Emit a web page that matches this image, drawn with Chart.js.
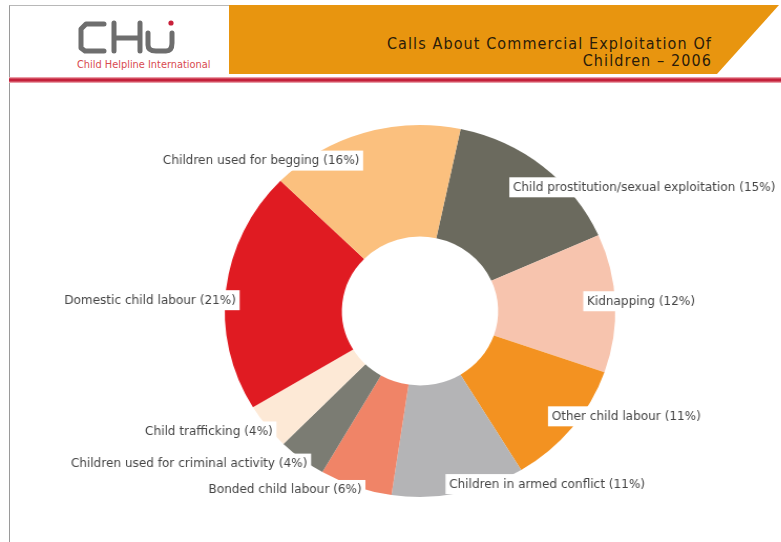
<!DOCTYPE html>
<html>
<head>
<meta charset="utf-8">
<script src="https://cdn.jsdelivr.net/npm/chart.js@4.4.1/dist/chart.umd.min.js"></script>
<style>
  html, body { margin: 0; padding: 0; background: #fff; }
  #page { position: relative; width: 781px; height: 542px; overflow: hidden; }
  #frame { position: absolute; left: 9px; top: 5px; width: 230px; height: 540px;
           border-left: 1px solid #9a9a9a; border-top: 1px solid #b8b8b8; }
  #banner { position: absolute; left: 229px; top: 5px; width: 552px; height: 69px; }
  #title { position: absolute; right: 69px; top: 35px; text-align: right;
           font-family: "DejaVu Sans Condensed", "DejaVu Sans"; font-stretch: condensed;
           font-size: 16px; line-height: 17px; letter-spacing: 1.1px; color: #2b1c0a; }
  #rule { position: absolute; left: 9px; top: 77px; width: 772px; height: 6px;
          background: linear-gradient(#f6c3c8, #c4203a 35%, #c4203a 65%, #f6c3c8); }
  #logo { position: absolute; left: 74px; top: 18px; }
  #tagline { position: absolute; left: 77px; top: 59px; font-family: "DejaVu Sans";
             font-size: 9.8px; color: #d84a50; }
  /* the source picture is slightly stretched sideways */
  canvas { position: absolute; left: 0; top: 0; transform: scaleX(1.05); transform-origin: 420px 0; }
</style>
</head>
<body>
<div id="page">
  <div id="frame"></div>
  <svg id="banner" width="552" height="69">
    <polygon points="0,0 550,0 488,69 0,69" fill="#e8950f"/>
  </svg>
  <div id="title">Calls About Commercial Exploitation Of<br>Children – 2006</div>
  <svg id="logo" width="110" height="40">
    <g fill="none" stroke="#6e6e6e" stroke-width="5" stroke-linecap="round" stroke-linejoin="round">
      <path d="M30,6 L12,6 L7,11 L7,30 L11,33 L30,33"/>
      <path d="M40,5 L40,33 M40,20 L66,20 M66,5 L66,33"/>
      <path d="M74,15 L74,27 Q74,33 82,33 L92,33 Q98,33 98,25 L98,15"/>
    </g>
    <circle cx="97" cy="5" r="2.6" fill="#c8203a"/>
  </svg>
  <div id="tagline">Child Helpline International</div>
  <div id="rule"></div>
  <canvas id="callsChart" width="781" height="542"></canvas>
</div>
<script>
const categories = [
  'Child prostitution/sexual exploitation',
  'Kidnapping',
  'Other child labour',
  'Children in armed conflict',
  'Bonded child labour',
  'Children used for criminal activity',
  'Child trafficking',
  'Domestic child labour',
  'Children used for begging'
];
const shares = [15, 12, 11, 11, 6, 4, 4, 21, 16];
const sliceColours = [
  '#6b6a5e', '#f7c4ae', '#f39221', '#b4b4b6', '#f08467',
  '#7b7c73', '#fde9d6', '#e01b22', '#fbc07e'
];

const DEG = Math.PI / 180;

// white boxed labels placed near each slice's middle angle
const sliceLabels = {
  id: 'sliceLabels',
  afterDatasetsDraw(chart) {
    const ctx = chart.ctx;
    const meta = chart.getDatasetMeta(0);
    ctx.save();
    ctx.font = '11.5px "DejaVu Sans"';
    ctx.textBaseline = 'middle';
    meta.data.forEach((arc, i) => {
      const p = arc.getProps(['x', 'y', 'startAngle', 'endAngle', 'outerRadius'], true);
      let mid = (p.startAngle + p.endAngle) / 2;
      const rightSide = Math.cos(mid) >= 0;
      let up = -Math.sin(mid);
      mid += (rightSide ? -1 - 4.5 * up : -3) * DEG;
      up = -Math.sin(mid);
      const k = rightSide
        ? 0.84 - 0.04 * up + 0.25 * Math.max(0, -up - 0.75)
        : 0.93 - 0.075 * up;
      const r = p.outerRadius * k;
      const ax = p.x + Math.cos(mid) * r;
      const ay = p.y + Math.sin(mid) * r;
      const text = categories[i] + ' (' + shares[i] + '%)';
      const w = ctx.measureText(text).width + 7;
      const left = rightSide ? ax : ax - w;
      ctx.fillStyle = '#fff';
      ctx.fillRect(left, ay - 10, w, 20);
      ctx.fillStyle = '#454545';
      ctx.fillText(text, left + 3.5, ay + 0.5);
    });
    ctx.restore();
  }
};

const ctx = document.getElementById('callsChart').getContext('2d');
new Chart(ctx, {
  type: 'doughnut',
  data: {
    labels: categories,
    datasets: [{
      data: shares,
      backgroundColor: sliceColours,
      borderWidth: 0
    }]
  },
  options: {
    responsive: false,
    animation: false,
    rotation: 12,
    cutout: '40%',
    layout: { padding: { top: 125, bottom: 45, left: 234, right: 175 } },
    plugins: {
      legend: { display: false },
      tooltip: { enabled: false }
    }
  },
  plugins: [sliceLabels]
});
</script>
</body>
</html>
